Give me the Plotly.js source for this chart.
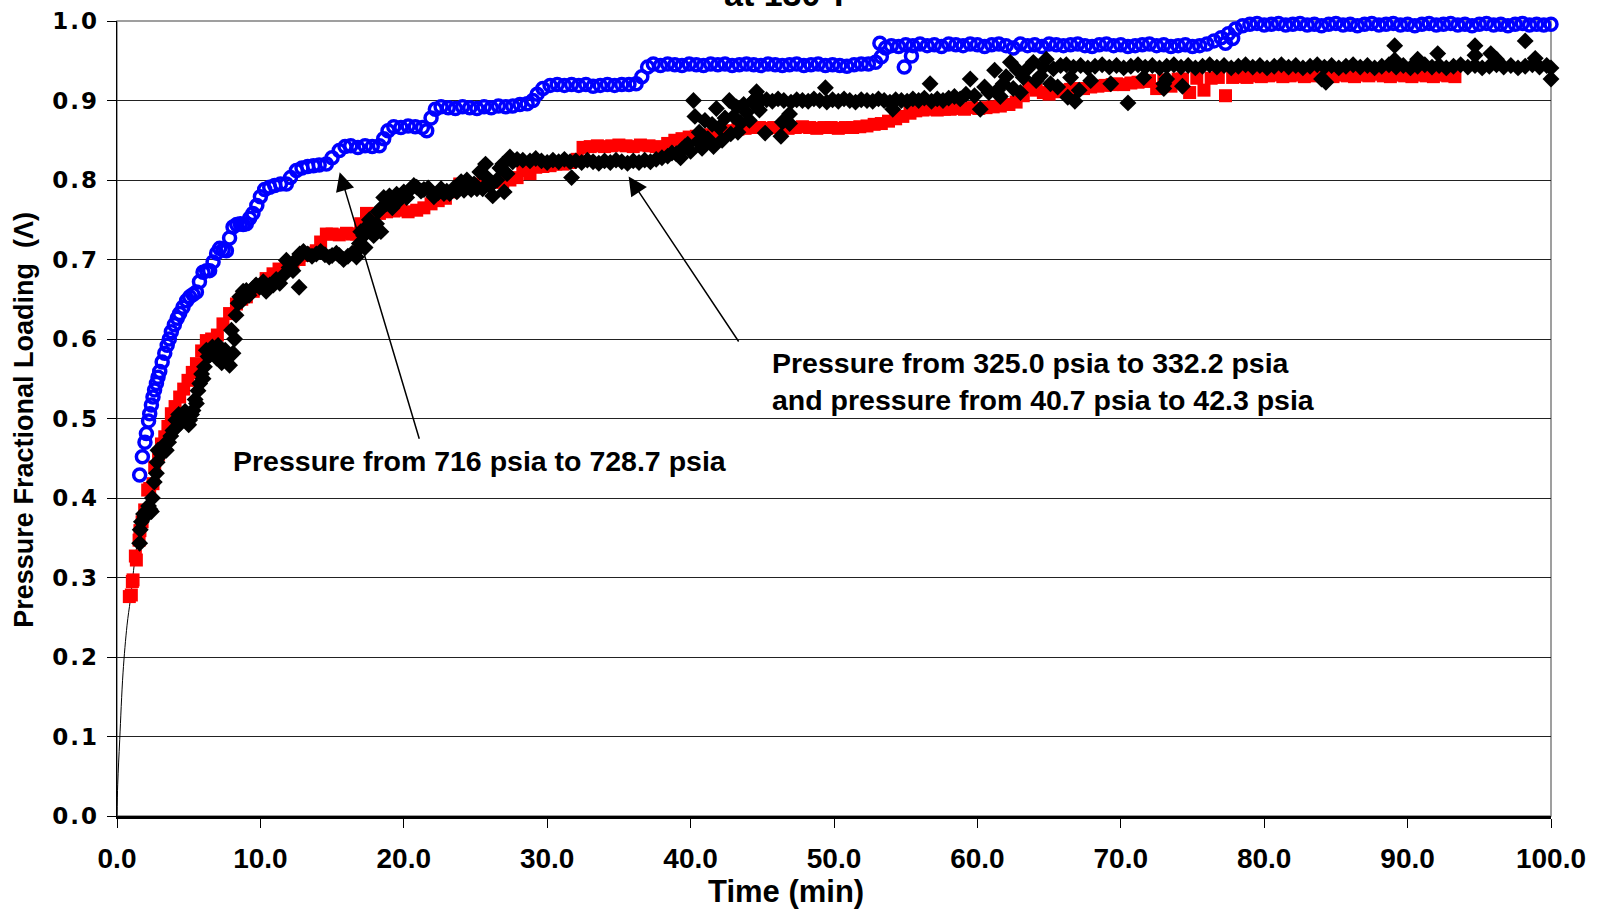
<!DOCTYPE html>
<html>
<head>
<meta charset="utf-8">
<script src="https://cdn.plot.ly/plotly-3.0.1.min.js"></script>
<style>
  html, body { margin: 0; padding: 0; background: #fff; }
  #chart { width: 1600px; height: 909px; }
  .ytick text { letter-spacing: 2px; }
</style>
</head>
<body>
<div id="chart"></div>
<script>
// ---- Data (time in min, pressure fractional loading) ----
const blueData = [
[1.58,.429],[1.77,.452],[1.95,.470],[2.05,.481],[2.2,.497],[2.28,.506],[2.4,.517],[2.51,.527],[2.62,.536],[2.75,.544],
[2.86,.552],[2.98,.559],[3.15,.571],[3.33,.582],[3.5,.592],[3.65,.600],[3.79,.609],[4.0,.618],[4.2,.626],[4.37,.632],
[4.6,.640],[4.85,.648],[5.07,.653],[5.3,.656],[5.54,.659],[5.75,.672],[6.0,.684],[6.25,.686],[6.46,.686],[6.7,.697],
[6.95,.708],[7.16,.714],[7.4,.712],[7.63,.711],[7.85,.727],[8.09,.741],[8.35,.744],[8.6,.745],[8.8,.744],[9.02,.745],
[9.25,.752],[9.48,.758],[9.75,.768],[10.0,.779],[10.3,.788],[10.65,.791],[11.0,.793],[11.4,.795],[11.81,.795],[12.1,.803],
[12.51,.812],[12.9,.815],[13.3,.817],[13.7,.818],[14.1,.819],[14.6,.820],[15.0,.828],[15.5,.837],[15.9,.842],[16.3,.843],
[16.8,.841],[17.3,.843],[17.8,.842],[18.3,.843],[18.6,.852],[18.9,.862],[19.3,.867],[19.8,.866],[20.3,.868],[20.8,.867],
[21.3,.866],[21.6,.862],[21.9,.878],[22.2,.889],[22.6,.892],[23.1,.891],[23.6,.890],[24.1,.892],[24.6,.891],[25.1,.890],
[25.6,.892],[26.1,.891],[26.6,.893],[27.1,.892],[27.6,.893],[28.1,.895],[28.6,.896],[29.0,.900],[29.3,.908],[29.7,.915],
[30.2,.919],[30.7,.920],[31.2,.919],[31.7,.920],[32.2,.919],[32.7,.920],[33.2,.918],[33.7,.919],[34.2,.920],[34.7,.919],
[35.2,.920],[35.7,.920],[36.2,.921],[36.6,.930],[37.0,.942],[37.4,.946],[37.9,.944],[38.4,.946],[38.9,.945],[39.4,.944],
[39.9,.946],[40.4,.945],[40.9,.944],[41.4,.946],[41.9,.945],[42.4,.946],[42.9,.944],[43.4,.945],[43.9,.946],[44.4,.945],
[44.9,.944],[45.4,.946],[45.9,.945],[46.4,.944],[46.9,.945],[47.4,.946],[47.9,.944],[48.4,.945],[48.9,.946],[49.4,.944],
[49.9,.945],[50.4,.944],[50.9,.943],[51.4,.945],[51.9,.946],[52.4,.946],[52.9,.948],[53.2,.972],[53.3,.955],[53.6,.966],
[54.0,.969],[54.5,.968],[54.9,.942],[55.0,.970],[55.4,.956],[55.5,.969],[56.0,.971],[56.5,.969],[57.0,.970],[57.5,.968],
[58.0,.971],[58.5,.970],[59.0,.969],[59.5,.971],[60.0,.970],[60.5,.968],[61.0,.970],[61.5,.971],[62.0,.969],[62.5,.966],
[63.0,.971],[63.5,.969],[64.0,.970],[64.5,.968],[65.0,.971],[65.5,.970],[66.0,.969],[66.5,.970],[67.0,.971],[67.5,.969],
[68.0,.968],[68.5,.970],[69.0,.971],[69.5,.969],[70.0,.970],[70.5,.968],[71.0,.969],[71.5,.970],[72.0,.971],[72.5,.969],
[73.0,.970],[73.5,.968],[74.0,.969],[74.5,.970],[75.0,.968],[75.5,.969],[76.0,.971],[76.5,.975],[77.0,.979],[77.3,.972],
[77.5,.984],[77.8,.978],[78.0,.990],[78.5,.994],[79.0,.996],[79.5,.997],[80.0,.995],[80.5,.996],[81.0,.997],[81.5,.995],
[82.0,.996],[82.5,.997],[83.0,.995],[83.5,.996],[84.0,.994],[84.5,.996],[85.0,.997],[85.5,.995],[86.0,.996],[86.5,.994],
[87.0,.996],[87.5,.997],[88.0,.995],[88.5,.996],[89.0,.997],[89.5,.995],[90.0,.996],[90.5,.994],[91.0,.996],[91.5,.997],
[92.0,.995],[92.5,.996],[93.0,.997],[93.5,.995],[94.0,.996],[94.5,.994],[95.0,.996],[95.5,.997],[96.0,.995],[96.5,.996],
[97.0,.994],[97.5,.996],[98.0,.997],[98.5,.995],[99.0,.996],[99.5,.995],[100.0,.996]
];

const redData = [
[0.86,.276],[1.0,.278],[1.07,.295],[1.12,.297],[1.28,.327],[1.35,.322],[1.54,.347],[1.6,.359],[1.75,.370],[1.93,.385],
[2.14,.410],[2.28,.412],[2.51,.418],[2.63,.439],[2.9,.455],[3.1,.468],[3.33,.477],[3.55,.490],[3.79,.506],[4.05,.515],
[4.37,.527],[4.65,.537],[4.95,.548],[5.25,.558],[5.54,.569],[5.9,.585],[6.23,.598],[6.6,.600],[7.0,.605],[7.39,.619],
[7.85,.632],[8.33,.644],[8.7,.650],[9.02,.653],[9.5,.660],[10.0,.668],[10.4,.676],[10.88,.682],[11.3,.688],[11.8,.692],
[12.27,.695],[12.7,.700],[13.2,.705],[13.6,.708],[13.9,.711],[14.2,.722],[14.6,.732],[15.0,.732],[15.5,.731],[16.0,.733],
[16.4,.732],[16.7,.732],[17.0,.745],[17.4,.758],[17.8,.755],[18.3,.758],[18.8,.760],[19.3,.761],[19.8,.762],[20.3,.760],
[20.9,.762],[21.4,.765],[21.9,.770],[22.4,.774],[22.9,.777],[23.4,.785],[23.9,.795],[24.4,.794],[24.9,.793],[25.4,.795],
[25.9,.796],[26.4,.797],[26.9,.798],[27.4,.800],[27.9,.803],[28.3,.812],[28.8,.808],[29.2,.816],[29.7,.817],[30.2,.818],
[30.6,.820],[31.1,.820],[31.6,.822],[32.1,.826],[32.5,.841],[33.0,.842],[33.5,.843],[34.0,.842],[34.5,.843],[35.0,.844],
[35.5,.843],[36.0,.842],[36.5,.844],[37.1,.843],[37.6,.842],[37.9,.840],[38.4,.846],[38.9,.850],[39.4,.852],[39.9,.854],
[40.4,.855],[40.9,.856],[41.4,.857],[41.8,.858],[42.3,.860],[42.8,.862],[43.3,.864],[43.8,.865],[44.3,.866],[44.8,.866],
[45.3,.865],[45.8,.866],[46.3,.866],[46.8,.865],[47.3,.866],[47.8,.867],[48.3,.866],[48.8,.865],[49.3,.866],[49.8,.866],
[50.3,.865],[50.8,.866],[51.3,.866],[51.8,.867],[52.3,.868],[52.8,.870],[53.3,.871],[53.8,.874],[54.3,.877],[54.8,.880],
[55.3,.884],[55.7,.887],[56.2,.888],[56.7,.889],[57.2,.888],[57.7,.889],[58.1,.889],[58.6,.890],[59.1,.889],[59.6,.891],
[60.1,.890],[60.6,.891],[61.1,.892],[61.6,.893],[62.2,.895],[62.7,.898],[63.2,.906],[63.6,.917],[64.1,.913],[64.6,.910],
[65.0,.908],[65.5,.911],[66.0,.913],[66.5,.914],[67.0,.915],[67.4,.915],[67.9,.917],[68.4,.918],[68.9,.919],[69.4,.920],
[69.7,.921],[70.2,.920],[70.7,.922],[71.2,.923],[71.7,.924],[72.0,.925],[72.5,.915],[73.0,.926],[73.5,.918],[74.0,.927],
[74.3,.927],[74.8,.910],[75.3,.928],[75.8,.913],[76.3,.928],[76.8,.929],[77.3,.906],[77.8,.929],[78.3,.930],[78.8,.929],
[79.3,.931],[79.8,.930],[80.3,.931],[80.8,.932],[81.3,.930],[81.8,.931],[82.3,.932],[82.8,.930],[83.3,.931],[83.8,.933],
[84.3,.931],[84.8,.930],[85.3,.932],[85.8,.931],[86.3,.930],[86.8,.932],[87.3,.931],[87.8,.933],[88.3,.931],[88.8,.930],
[89.3,.932],[89.8,.931],[90.3,.930],[90.8,.932],[91.3,.931],[91.8,.930],[92.3,.932],[92.8,.931],[93.3,.930]
];

const blackData = [
[1.58,.343],[1.62,.36],[1.7,.37],[1.85,.38],[1.95,.376],[2.05,.383],[2.2,.39],[2.3,.386],[2.4,.383],[2.47,.40],
[2.6,.42],[2.75,.431],[2.8,.445],[2.86,.46],[2.98,.46],[3.1,.455],[3.2,.462],[3.35,.468],[3.44,.46],[3.6,.47],
[3.75,.478],[3.9,.485],[4.1,.498],[4.2,.49],[4.3,.505],[4.45,.495],[4.6,.502],[4.75,.509],[4.85,.50],[5.0,.492],
[5.07,.498],[5.2,.505],[5.3,.51],[5.45,.524],[5.54,.519],[5.65,.535],[5.77,.544],[5.9,.556],[6.0,.55],[6.1,.565],
[6.23,.586],[6.35,.578],[6.5,.58],[6.65,.59],[6.8,.585],[6.95,.576],[7.05,.592],[7.16,.582],[7.3,.57],[7.4,.575],
[7.55,.586],[7.7,.58],[7.85,.567],[7.98,.611],[8.09,.582],[8.2,.60],[8.3,.63],[8.45,.645],[8.56,.653],[8.7,.648],
[8.8,.66],[9.02,.661],[9.2,.655],[9.5,.664],[9.7,.668],[9.95,.665],[10.2,.672],[10.4,.66],[10.65,.668],[10.9,.668],
[11.1,.675],[11.35,.67],[11.6,.68],[11.81,.699],[12.0,.69],[12.27,.686],[12.5,.70],[12.7,.665],[12.74,.707],[13.0,.71],
[13.3,.707],[13.6,.704],[13.9,.707],[14.2,.71],[14.5,.706],[14.8,.703],[15.0,.705],[15.3,.708],[15.5,.705],[15.8,.70],
[16.1,.704],[16.4,.708],[16.7,.703],[16.8,.712],
[16.9,.72],[17.0,.735],[17.2,.73],[17.3,.715],[17.4,.741],[17.6,.75],[17.8,.744],[17.9,.73],[18.1,.745],[18.2,.76],
[18.4,.735],[18.5,.766],[18.6,.778],[18.8,.77],[19.0,.78],[19.2,.765],[19.5,.782],[19.7,.775],[20.0,.785],[20.2,.778],
[20.5,.789],[20.7,.793],[20.9,.791],[21.2,.786],[21.4,.788],[21.7,.79],[21.9,.785],[22.1,.779],[22.4,.784],[22.6,.789],
[22.8,.783],[23.0,.786],[23.2,.783],[23.5,.79],[23.7,.785],[24.0,.798],[24.2,.787],[24.4,.80],[24.7,.788],[24.9,.795],
[25.1,.789],[25.3,.81],[25.5,.789],[25.7,.82],[25.8,.803],[26.0,.792],[26.2,.78],[26.5,.80],[26.7,.815],[26.9,.82],
[27.0,.785],[27.2,.808],[27.4,.829],[27.6,.823],
[27.9,.826],[28.3,.825],[28.8,.824],[29.2,.827],[29.6,.824],[30.0,.822],[30.4,.825],[30.8,.823],[31.2,.826],[31.6,.823],
[31.7,.803],[32.0,.824],[32.4,.822],[32.8,.825],[33.2,.823],[33.6,.821],[34.0,.824],[34.4,.822],[34.8,.825],[35.2,.823],
[35.6,.821],[36.0,.824],[36.4,.822],[36.8,.825],[37.2,.823],[37.6,.826],[38.0,.828],
[38.4,.83],[38.7,.834],[39.0,.833],[39.3,.828],[39.4,.838],[39.6,.842],[39.8,.845],[40.0,.836],[40.2,.90],[40.3,.88],
[40.5,.848],[40.6,.86],[40.8,.84],[41.0,.875],[41.2,.852],[41.5,.87],[41.6,.842],[41.8,.89],[42.0,.866],[42.2,.85],
[42.4,.878],[42.7,.90],[42.8,.858],[43.0,.88],[43.2,.892],[43.3,.86],[43.5,.872],[43.7,.895],[43.9,.885],[44.1,.875],
[44.3,.898],[44.5,.902],[44.6,.911],[44.8,.888],[44.9,.90],
[45.2,.859],[45.3,.901],[45.7,.899],[46.1,.902],[46.3,.855],[46.4,.873],[46.5,.90],[46.9,.871],[46.9,.883],[47.0,.898],
[47.4,.901],[47.8,.90],[48.2,.899],[48.6,.902],[49.0,.90],[49.4,.916],[49.5,.898],[49.9,.901],[50.3,.899],[50.7,.902],
[51.1,.90],[51.5,.898],[51.9,.901],[52.3,.90],[52.7,.899],[53.1,.902],[53.5,.90],[53.9,.898],[54.1,.889],[54.3,.901],
[54.7,.90],[55.1,.899],[55.5,.902],[55.9,.90],[56.3,.903],[56.7,.921],[56.8,.899],[57.2,.902],[57.6,.90],[58.0,.903],
[58.4,.905],[58.8,.902],[59.2,.908],[59.5,.927],[59.8,.906],[60.2,.889],[60.5,.917],[60.8,.91],[61.2,.938],[61.4,.913],
[61.6,.905],[61.8,.921],[62.0,.93],[62.3,.948],[62.5,.915],[62.8,.938],[63.0,.91],[63.2,.929],[63.5,.94],[63.9,.948],
[64.1,.925],[64.4,.931],[64.6,.942],[64.8,.952],[65.1,.921],[65.3,.94],[65.6,.917],[65.8,.944],[66.3,.904],[66.5,.929],
[66.8,.899],[67.1,.913],
[66.2,.945],[66.7,.942],[67.2,.944],[67.7,.941],[67.9,.925],[68.2,.943],[68.7,.945],[69.2,.942],[69.3,.921],[69.7,.944],
[70.2,.941],[70.5,.897],[70.7,.943],[71.2,.945],[71.6,.929],[71.7,.942],[72.2,.944],[72.7,.941],[73.0,.915],[73.0,.921],
[73.2,.943],[73.2,.927],[73.7,.945],[74.2,.942],[74.3,.918],[74.7,.944],[75.2,.941],[75.7,.943],[76.2,.945],[76.7,.942],
[77.2,.944],[77.7,.941],[78.2,.943],[78.7,.945],[79.2,.942],[79.7,.944],[80.2,.941],[80.7,.943],[81.2,.945],[81.7,.942],
[82.2,.944],[82.7,.941],[83.2,.943],[83.7,.945],[84.0,.927],[84.3,.923],[84.2,.942],[84.7,.944],[85.2,.941],[85.7,.943],
[86.2,.945],[86.7,.942],[87.2,.944],[87.7,.941],[88.2,.943],[88.7,.945],[89.1,.969],[89.1,.951],[89.2,.942],[89.7,.944],
[90.2,.941],[90.7,.952],[90.7,.943],[91.2,.945],[91.7,.942],[92.1,.959],[92.2,.944],[92.7,.941],[93.2,.943],[93.7,.945],
[94.2,.942],[94.7,.969],[94.7,.957],[94.7,.944],[95.2,.941],[95.7,.943],[95.8,.959],[96.2,.952],[96.2,.945],[96.7,.942],
[97.2,.944],[97.7,.941],[98.2,.975],[98.2,.943],[98.7,.945],[98.9,.953],[99.2,.942],[99.7,.944],[100.0,.927],[100.0,.941]
];

// thin curve from the origin up into the first points
const lineData = [[0,0],[0.05,0.04],[0.19,0.096],[0.42,0.18],[0.7,0.24],[0.93,0.272],[1.3,0.33],[1.6,0.36],[2.0,0.39],[2.5,0.43]];

const xTicks = [0,10,20,30,40,50,60,70,80,90,100];
const yTicks = [0,0.1,0.2,0.3,0.4,0.5,0.6,0.7,0.8,0.9,1.0];

const chartTitle = 'at 130°F';
const xTitle = 'Time (min)';
const yTitle = 'Pressure Fractional Loading  (Λ)';
const note1 = 'Pressure from 716 psia to 728.7 psia';
const note2 = 'Pressure from 325.0 psia to 332.2 psia<br>and pressure from 40.7 psia to 42.3 psia';

const col = (d, i) => d.map(p => p[i]);
const SANS = 'Liberation Sans, Arial, sans-serif';

const traces = [
  { x: col(lineData,0), y: col(lineData,1), type: 'scatter', mode: 'lines',
    line: { color: '#000', width: 1, shape: 'spline' }, hoverinfo: 'skip' },
  { x: col(redData,0), y: col(redData,1), type: 'scatter', mode: 'markers', cliponaxis: false,
    marker: { symbol: 'square', size: 13, color: '#ff0000' } },
  { x: col(blueData,0), y: col(blueData,1), type: 'scatter', mode: 'markers', cliponaxis: false,
    marker: { symbol: 'circle-open', size: 12, color: '#0000ff', line: { width: 3.5, color: '#0000ff' } } },
  { x: col(blackData,0), y: col(blackData,1), type: 'scatter', mode: 'markers', cliponaxis: false,
    marker: { symbol: 'diamond', size: 13, color: '#000000' } }
];

const layout = {
  width: 1600, height: 909,
  margin: { l: 117, r: 49, t: 21, b: 93 },
  paper_bgcolor: '#fff', plot_bgcolor: '#fff',
  showlegend: false,
  xaxis: {
    range: [0, 100], tickvals: xTicks, tickformat: '.1f',
    ticks: 'outside', ticklen: 9, tickcolor: '#000', tickwidth: 1,
    showline: true, linecolor: '#000', linewidth: 3,
    showgrid: false, zeroline: false,
    tickfont: { family: SANS, size: 28, color: '#000', weight: 'bold' },
    ticklabelstandoff: 6
  },
  yaxis: {
    range: [0, 1], tickvals: yTicks, tickformat: '.1f',
    ticks: 'outside', ticklen: 9, tickcolor: '#000', tickwidth: 1,
    showline: true, linecolor: '#000', linewidth: 1.5,
    showgrid: true, gridcolor: '#222', gridwidth: 1,
    zeroline: false,
    tickfont: { family: 'DejaVu Sans, sans-serif', size: 23, color: '#000', weight: 'bold' },
    ticklabelstandoff: 3
  },
  shapes: [
    { type: 'rect', xref: 'paper', yref: 'paper', x0: 0, x1: 1, y0: 0, y1: 1,
      line: { color: '#808080', width: 1.5 }, layer: 'below' }
  ],
  annotations: [
    { text: chartTitle, xref: 'paper', yref: 'paper', x: 0.469, y: 1, xanchor: 'center', yanchor: 'bottom',
      yshift: 6, showarrow: false, font: { family: SANS, size: 34, color: '#000', weight: 'bold' } },
    { text: xTitle, xref: 'paper', yref: 'paper', x: 0.4663, y: 0, xanchor: 'center', yanchor: 'middle',
      yshift: -75, showarrow: false, font: { family: SANS, size: 31, color: '#000', weight: 'bold' } },
    { text: yTitle, xref: 'paper', yref: 'paper', x: 0, y: 0.4985, xanchor: 'center', yanchor: 'middle',
      xshift: -93, textangle: -90, showarrow: false,
      font: { family: SANS, size: 27, color: '#000', weight: 'bold' } },
    { text: note1, xref: 'x', yref: 'y', x: 7.98, y: 0.4464, xanchor: 'left', yanchor: 'middle',
      showarrow: false, font: { family: SANS, size: 28.5, color: '#000', weight: 'bold' } },
    { text: note2, xref: 'x', yref: 'y', x: 45.51, y: 0.547, xanchor: 'left', yanchor: 'middle', align: 'left',
      showarrow: false, font: { family: SANS, size: 28.5, color: '#000', weight: 'bold' } },
    { text: '', xref: 'x', yref: 'y', x: 15.53, y: 0.8098, axref: 'x', ayref: 'y', ax: 21.11, ay: 0.4727,
      showarrow: true, arrowhead: 2, arrowsize: 2.5, arrowwidth: 1.5, arrowcolor: '#000' },
    { text: '', xref: 'x', yref: 'y', x: 35.68, y: 0.8044, axref: 'x', ayref: 'y', ax: 43.42, ay: 0.595,
      showarrow: true, arrowhead: 2, arrowsize: 2.5, arrowwidth: 1.5, arrowcolor: '#000' }
  ]
};

Plotly.newPlot('chart', traces, layout, { displayModeBar: false, staticPlot: true });
</script>
</body>
</html>
